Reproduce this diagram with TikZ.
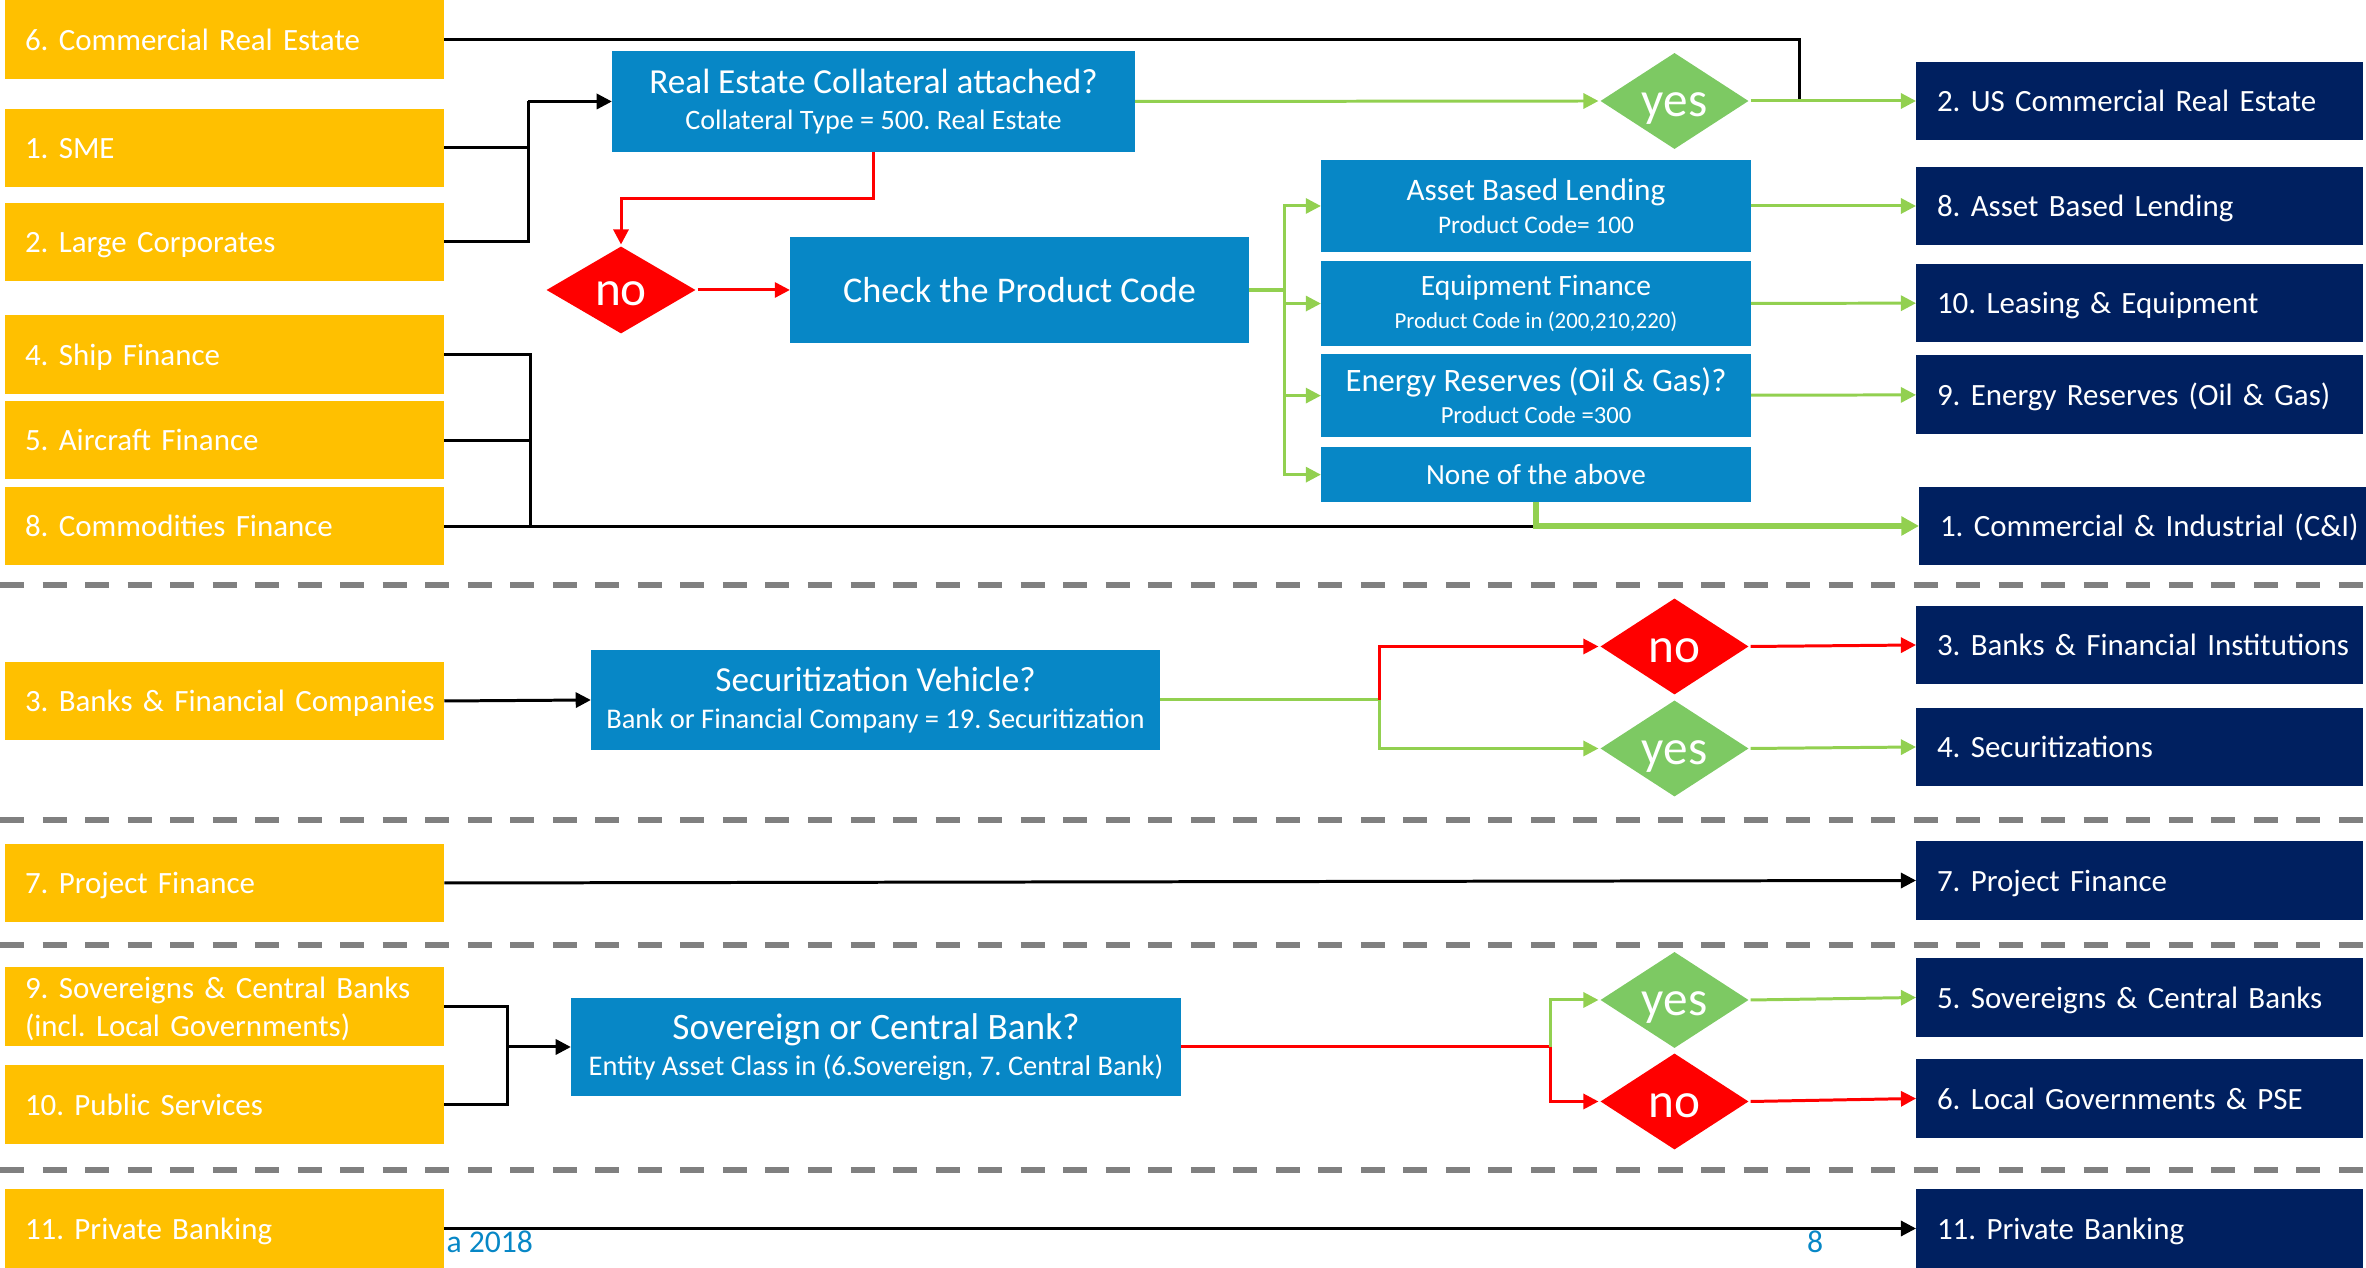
\documentclass[tikz,border=0pt]{standalone}
\usepackage{fontspec}
\setmainfont{Carlito}
\usetikzlibrary{arrows.meta,shapes.geometric,positioning,calc}
\definecolor{gold}{HTML}{FFC000}
\definecolor{navy}{HTML}{002060}
\definecolor{ocean}{HTML}{0787C6}
\definecolor{leaf}{HTML}{92D050}
\definecolor{meadow}{HTML}{7DC963}
\definecolor{sepgray}{HTML}{808080}
\frenchspacing
\hyphenpenalty=10000
\tikzset{
	every node/.style={
		font=\fontsize{8.8}{10.8}\selectfont,
		text=white
	},
	segment/.style={
		shape=rectangle,
		fill=gold,
		anchor=west,
		outer sep=0pt,
		minimum width=4.39cm,
		minimum height=0.78cm,
		text width=4.33cm,
		inner xsep=0.03cm,
		inner ysep=0pt,
		text height=8pt,
		text depth=2pt,
		align=left,
		execute at begin node={\leftskip=0.17cm\rightskip=-0.5cm plus 1fil}
	},
	portfolio/.style={
		segment,
		fill=navy,
		minimum width=4.47cm,
		text width=4.41cm,
		execute at begin node={\leftskip=0.18cm\rightskip=-0.5cm plus 1fil}
	},
	question/.style={
		shape=rectangle,
		fill=ocean,
		outer sep=0pt,
		align=center
	},
	yes answer/.style={
		shape=diamond,
		fill=meadow,
		inner sep=0pt,
		minimum width=1.49cm,
		minimum height=0.97cm,
		text height=9pt,
		text depth=0pt,
		font=\fontsize{14}{14}\selectfont
	},
	no answer/.style={
		yes answer,
		fill=red
	},
	separator/.style={
		draw=sepgray,
		line width=1.5pt,
		dash pattern=on 0.24cm off 0.185cm
	},
	footer/.style={
		text=ocean,
		inner sep=0pt,
		font=\fontsize{9}{10}\selectfont
	}
}

\begin{document}
\begin{tikzpicture}[x=0.01cm,y=-0.01cm,>={Triangle[length=4.3pt,width=4.3pt]},line width=0.85pt]
	\useasboundingbox (0,0) rectangle (2366,1268);

	% separators between the groups
	\foreach \y in {585,820,945,1170}
		\draw[separator] (0,\y) -- (2366,\y);

	% segments on the left
	\node[segment] (cre) at (5,39.5) {6. Commercial Real Estate};
	\node[segment] (sme) at (5,148) {1. SME};
	\node[segment] (lc) at (5,242) {2. Large Corporates};
	\node[segment] (ship) at (5,354.5) {4. Ship Finance};
	\node[segment] (air) [below=0.075cm of ship.south west, anchor=north west] {5. Aircraft Finance};
	\node[segment] (comm) [below=0.08cm of air.south west, anchor=north west] {8. Commodities Finance};
	\node[segment] (banks) at (5,701) {3. Banks \& Financial Companies};
	\node[segment] (proj) at (5,883) {7. Project Finance};
	\node[segment, text depth=12.8pt] (sov) at (5,1006.5) {9. Sovereigns \& Central Banks\\(incl. Local Governments)};
	\node[segment] (pub) at (5,1104.5) {10. Public Services};
	\node[segment] (priv) at (5,1228.5) {11. Private Banking};

	% portfolios on the right
	\node[portfolio] (uscre) at (1916,101) {2. US Commercial Real Estate};
	\node[portfolio] (abln) at (1916,206) {8. Asset Based Lending};
	\node[portfolio] (lease) at (1916,303) {10. Leasing \& Equipment};
	\node[portfolio] (energyn) at (1916,394.5) {9. Energy Reserves (Oil \& Gas)};
	\node[portfolio] (ci) at (1919,526) {1. Commercial \& Industrial (C\&I)};
	\node[portfolio] (banksn) at (1916,645) {3. Banks \& Financial Institutions};
	\node[portfolio] (secn) at (1916,747) {4. Securitizations};
	\node[portfolio] (projn) at (1916,880.5) {7. Project Finance};
	\node[portfolio] (sovn) at (1916,997.5) {5. Sovereigns \& Central Banks};
	\node[portfolio] (local) at (1916,1098.5) {6. Local Governments \& PSE};
	\node[portfolio] (privn) at (1916,1228.5) {11. Private Banking};

	% questions
	\node[question, minimum width=5.23cm, minimum height=1.01cm, font=\fontsize{8}{10.1}\selectfont] (re) at (873.5,101.5)
		{{\fontsize{10}{12}\selectfont Real Estate Collateral attached?}\\Collateral Type = 500. Real Estate};
	\node[question, minimum width=4.59cm, minimum height=1.06cm, font=\fontsize{10.3}{12}\selectfont] (check) at (1019.5,290) {Check the Product Code};
	\node[question, minimum width=4.30cm, minimum height=0.92cm, font=\fontsize{7.2}{9.3}\selectfont] (abl) at (1536,206)
		{{\fontsize{8.9}{10}\selectfont Asset Based Lending}\\Product Code= 100};
	\node[question, minimum width=4.30cm, minimum height=0.85cm, font=\fontsize{6.5}{9.3}\selectfont] (equip) [below=0.09cm of abl]
		{{\fontsize{8.4}{10}\selectfont Equipment Finance}\\Product Code in (200,210,220)};
	\node[question, minimum width=4.30cm, minimum height=0.83cm, font=\fontsize{7}{9.3}\selectfont] (energy) [below=0.08cm of equip]
		{{\fontsize{9.3}{10}\selectfont Energy Reserves (Oil \& Gas)?}\\Product Code =300};
	\node[question, minimum width=4.30cm, minimum height=0.55cm, font=\fontsize{8.3}{10}\selectfont] (none) [below=0.10cm of energy] {None of the above};
	\node[question, minimum width=5.69cm, minimum height=1.00cm, font=\fontsize{8.1}{10.5}\selectfont] (sec) at (875.5,700)
		{{\fontsize{10}{12}\selectfont Securitization Vehicle?}\\Bank or Financial Company = 19. Securitization};
	\node[question, minimum width=6.10cm, minimum height=0.98cm, font=\fontsize{8.1}{10.5}\selectfont] (sovq) at (876,1047)
		{{\fontsize{10.6}{12}\selectfont Sovereign or Central Bank?}\\Entity Asset Class in (6.Sovereign, 7. Central Bank)};

	% answers
	\node[no answer, minimum width=1.50cm, minimum height=0.88cm] (no1) at (621,290) {no};
	\node[yes answer] (yes1) at (1674.5,101) {yes};
	\node[no answer] (no2) at (1674.5,646.5) {no};
	\node[yes answer] (yes2) at (1674.5,748.5) {yes};
	\node[yes answer] (yes3) at (1674.5,1000) {yes};
	\node[no answer] (no3) at (1674.5,1101.5) {no};

	% footer leftovers
	\node[footer, anchor=base west] (year) at (445,1253) {a 2018};
	\node[footer, anchor=base] (page) at (1815,1253) {8};

	% real estate branch
	\coordinate (crejoin) at (1799,100.5);
	\draw (cre.east) -| (crejoin);
	\coordinate (corpjoin) at (528,101.5);
	\draw (sme.east) -| (corpjoin);
	\draw (lc.east) -| (corpjoin);
	\draw[->] (corpjoin) -- (re.west);
	\draw[leaf,->] (re.east) -- (yes1.west);
	\draw[leaf,->] (yes1.east) -- (uscre.west);
	\draw[red,->] (re.south) -- ++(0,46) -| (no1.north);
	\draw[red,->] (no1.east) -- (check.west);

	% product codes
	\coordinate (prodjoin) at (1284,290);
	\draw[leaf, line width=1.4pt] (check.east) -- (prodjoin);
	\foreach \b in {abl,equip,energy,none}
		\draw[leaf,->] (prodjoin) |- (\b.west);
	\path[leaf,->] (abl) edge (abln)
		(equip) edge (lease)
		(energy) edge (energyn);
	\coordinate (shipjoin) at (530,526);
	\draw (ship.east) -| (shipjoin);
	\draw (air.east) -| (shipjoin);
	\draw (comm.east) -- (comm.east -| none.south);
	\draw[leaf, line width=1.5pt, >={Triangle[length=5pt,width=5.2pt]}, ->] (none.south) |- (ci.west);

	% banks
	\draw[->] (banks.east) -- (sec.west);
	\coordinate (secjoin) at (1379,700);
	\draw[leaf] (sec.east) -- (secjoin);
	\draw[red,->] (secjoin) |- (no2.west);
	\draw[leaf,->] (secjoin) |- (yes2.west);
	\draw[red,->] (no2.east) -- (banksn.west);
	\draw[leaf,->] (yes2.east) -- (secn.west);

	% project finance
	\draw[->] (proj.east) -- (projn.west);

	% sovereigns
	\coordinate (sovjoin) at (507,1047);
	\draw (sov.east) -| (sovjoin);
	\draw (pub.east) -| (sovjoin);
	\draw[->] (sovjoin) -- (sovq.west);
	\coordinate (govjoin) at (1550,1047);
	\draw[red] (sovq.east) -- (govjoin);
	\draw[leaf,->] (govjoin) |- (yes3.west);
	\draw[red,->] (govjoin) |- (no3.west);
	\draw[leaf,->] (yes3.east) -- (sovn.west);
	\draw[red,->] (no3.east) -- (local.west);

	% private banking
	\draw[->] (priv.east) -- (privn.west);
\end{tikzpicture}
\end{document}
